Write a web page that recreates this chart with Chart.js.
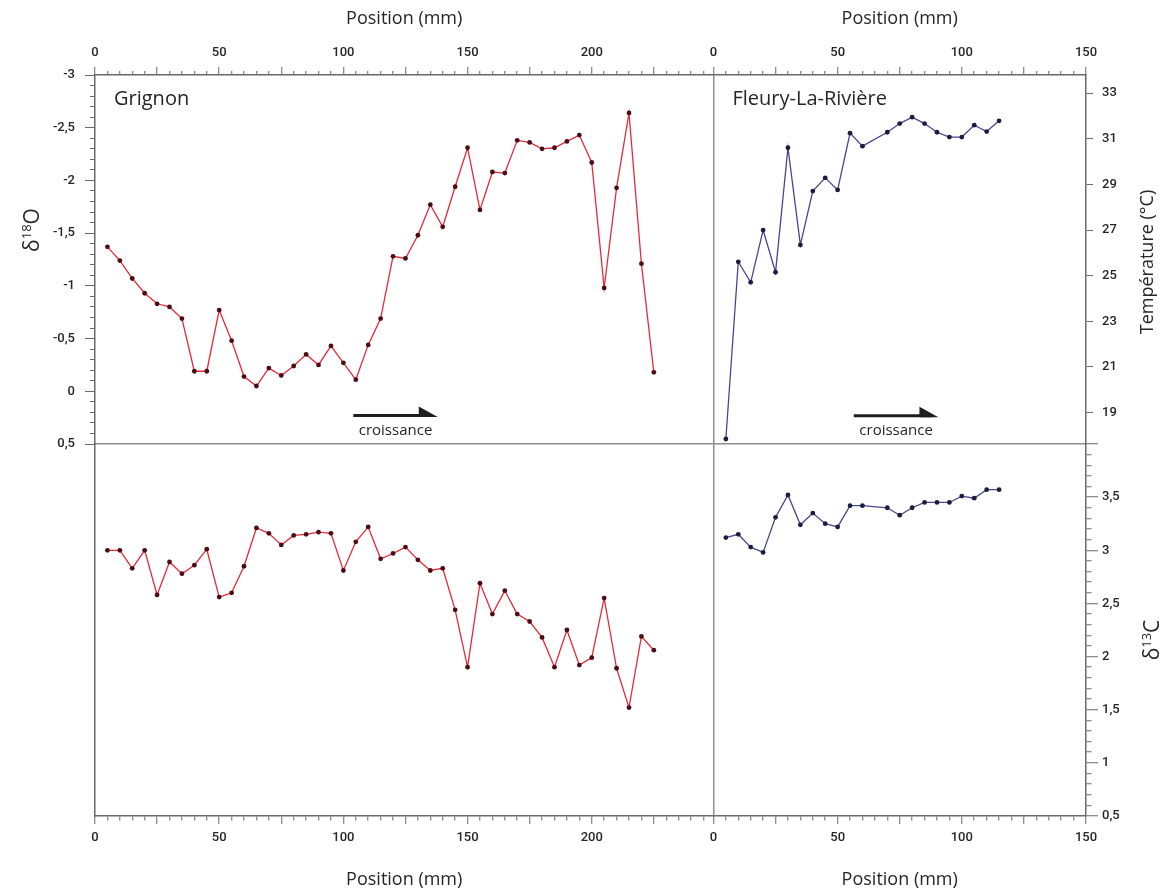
<!DOCTYPE html>
<html lang="fr">
<head>
  <meta charset="utf-8" />
  <title>Grignon / Fleury-La-Rivière — δ18O, δ13C</title>
  <script src="https://cdn.jsdelivr.net/npm/chart.js@4.4.1/dist/chart.umd.min.js"></script>
  <style>
    html, body { margin: 0; padding: 0; background: #fff; }
    #wrap { width: 1171px; height: 893px; }
  </style>
</head>
<body>
<div id="wrap"><canvas id="chart" width="1171" height="893"></canvas></div>
<script>
// --- data (position in mm) ---
const GRIGNON_X = [5, 10, 15, 20, 25, 30, 35, 40, 45, 50, 55, 60, 65, 70, 75, 80, 85, 90, 95, 100,
  105, 110, 115, 120, 125, 130, 135, 140, 145, 150, 155, 160, 165, 170, 175, 180, 185, 190, 195, 200,
  205, 210, 215, 220, 225]
const GRIGNON_D18O = [-1.37, -1.24, -1.07, -0.93, -0.83, -0.80, -0.69, -0.19, -0.19, -0.77,
  -0.48, -0.14, -0.05, -0.22, -0.15, -0.24, -0.35, -0.25, -0.43, -0.27,
  -0.11, -0.44, -0.69, -1.28, -1.26, -1.48, -1.77, -1.56, -1.94, -2.31,
  -1.72, -2.08, -2.07, -2.38, -2.36, -2.30, -2.31, -2.37, -2.43, -2.17,
  -0.98, -1.93, -2.64, -1.21, -0.18]
const GRIGNON_D13C = [3.00, 3.00, 2.83, 3.00, 2.58, 2.89, 2.78, 2.86, 3.01, 2.56,
  2.60, 2.85, 3.21, 3.16, 3.05, 3.14, 3.15, 3.17, 3.16, 2.81,
  3.08, 3.22, 2.92, 2.97, 3.03, 2.91, 2.81, 2.83, 2.44, 1.90,
  2.69, 2.40, 2.62, 2.40, 2.33, 2.18, 1.90, 2.25, 1.92, 1.99,
  2.55, 1.89, 1.52, 2.19, 2.06]

const FLEURY_X = [5, 10, 15, 20, 25, 30, 35, 40, 45, 50, 55, 60, 70, 75, 80, 85, 90, 95, 100, 105, 110, 115]
const FLEURY_TEMP = [17.84, 25.61, 24.71, 27.0, 25.15, 30.61, 26.35, 28.71, 29.29, 28.76, 31.25,
  30.68, 31.29, 31.67, 31.95, 31.67, 31.29, 31.08, 31.08, 31.6, 31.32, 31.79]
const FLEURY_D13C = [3.12, 3.15, 3.03, 2.98, 3.31, 3.52, 3.24, 3.35, 3.25, 3.22, 3.42,
  3.42, 3.40, 3.33, 3.40, 3.45, 3.45, 3.45, 3.51, 3.49, 3.57, 3.57]

// axis ranges
const POS_LEFT = [0, 249]
const POS_RIGHT = [0, 150]
const D18O_RANGE = [-3, 0.5]
const TEMP_RANGE = [17.62, 33.8]
const D13C_RANGE = [0.5, 4]

// "croissance" arrows: [from mm, to mm, y value]
const ARROW_GRIGNON = [104, 138, 0.23]
const ARROW_FLEURY = [56.5, 90.6, 18.86]

// --- style ---
const INK = '#262626'
const FRAME = '#6a6a6a'
const DIVIDER = '#8e8e8e'
const RED = '#e42a3b'
const RED_DOT = '#4d0b14'
const BLUE = '#46478f'
const BLUE_DOT = '#1c1c3e'
const SANS = '"Open Sans", "Noto Sans", sans-serif'
const TICK_FONT = { family: 'Roboto, sans-serif', size: 13, weight: '500' }
const TITLE_FONT = { family: SANS, size: 18 }

const near = (a, b) => Math.abs(a - b) < 1e-6
const multipleOf = (v, m) => near(v / m, Math.round(v / m))
const comma = v => String(Math.round(v * 10) / 10).replace('.', ',')

// Chart.js has a single tickLength per axis, so short (minor) ticks are cut
// down with a dash pattern. Top/left ticks are stroked from the outside in.
function tickDash(isMajor, outsideIn, full, short) {
  return ctx => {
    if (isMajor(ctx.tick.value)) return []
    return outsideIn ? [0, full - short, short, 1000] : [short, 1000]
  }
}

function xAxis(position, range, order, divider) {
  const top = position === 'top'
  return {
    type: 'linear', axis: 'x', position,
    min: range[0], max: range[1],
    stack: position, stackWeight: range[1] - range[0], weight: order,
    border: { color: FRAME, width: 1.5 },
    grid: {
      drawOnChartArea: divider,
      color: ctx => (divider && ctx.tick && ctx.tick.value === 0 ? DIVIDER : 'rgba(0,0,0,0)'),
      lineWidth: 1.5,
      tickLength: 8,
      tickColor: FRAME,
      tickWidth: 1,
      tickBorderDash: tickDash(v => multipleOf(v, 25), top, 8, 4),
    },
    ticks: {
      stepSize: 5, autoSkip: false, maxRotation: 0, includeBounds: false,
      padding: 6, color: INK, font: TICK_FONT,
      callback: v => (multipleOf(v, 50) ? String(v) : ''),
    },
    title: {
      display: true, text: 'Position (mm)', color: INK, font: TITLE_FONT,
      padding: top ? { top: 8, bottom: 0 } : { top: 0, bottom: 2 },
    },
    afterFit: s => { s.height = top ? 75 : 77 },
  }
}

const scales = {
  xTopL: xAxis('top', POS_LEFT, 2, false),
  xTopR: xAxis('top', POS_RIGHT, 1, true),
  xBotL: xAxis('bottom', POS_LEFT, 1, false),
  xBotR: xAxis('bottom', POS_RIGHT, 2, false),

  yTop: {
    type: 'linear', axis: 'y', position: 'left', reverse: true,
    min: D18O_RANGE[0], max: D18O_RANGE[1],
    stack: 'left', stackWeight: 369, weight: 2,
    border: { color: FRAME, width: 1.5 },
    grid: {
      drawOnChartArea: false, tickLength: 10, tickColor: FRAME, tickWidth: 1,
      tickBorderDash: tickDash(v => multipleOf(v, 0.5), true, 10, 5),
    },
    ticks: {
      stepSize: 0.1, autoSkip: false, padding: 10, color: INK, font: TICK_FONT,
      callback: v => (multipleOf(v, 0.5) ? comma(v) : ''),
    },
    afterFit: s => { s.width = 95 },
  },
  yBotL: {
    type: 'linear', axis: 'y', position: 'left',
    min: D13C_RANGE[0], max: D13C_RANGE[1],
    stack: 'left', stackWeight: 372, weight: 1,
    border: { color: FRAME, width: 1.5 },
    grid: { display: false },
    ticks: { display: false },
    afterFit: s => { s.width = 95 },
  },
  yTopR: {
    type: 'linear', axis: 'y', position: 'right',
    min: TEMP_RANGE[0], max: TEMP_RANGE[1],
    stack: 'right', stackWeight: 369, weight: 1,
    border: { color: FRAME, width: 1.5 },
    grid: {
      drawOnChartArea: false, tickLength: 7, tickWidth: 1,
      tickColor: ctx => (ctx.tick.value % 2 === 1 ? FRAME : 'rgba(0,0,0,0)'),
    },
    ticks: {
      stepSize: 1, autoSkip: false, includeBounds: false, padding: 9, color: INK, font: TICK_FONT,
      callback: v => (v % 2 === 1 ? String(v) : ''),
    },
    afterFit: s => { s.width = 85 },
  },
  yBotR: {
    type: 'linear', axis: 'y', position: 'right',
    min: D13C_RANGE[0], max: D13C_RANGE[1],
    stack: 'right', stackWeight: 372, weight: 2,
    border: { color: FRAME, width: 1.5 },
    grid: {
      drawOnChartArea: true,
      color: ctx => (ctx.tick && near(ctx.tick.value, D13C_RANGE[1]) ? DIVIDER : 'rgba(0,0,0,0)'),
      lineWidth: 1.5,
      tickLength: 12, tickColor: FRAME, tickWidth: 1,
      tickBorderDash: tickDash(v => multipleOf(v, 0.5), false, 12, 5),
    },
    ticks: {
      stepSize: 0.1, autoSkip: false, padding: 4, color: INK, font: TICK_FONT,
      callback: v => (multipleOf(v, 0.5) && !near(v, D13C_RANGE[1]) ? comma(v) : ''),
    },
    afterFit: s => { s.width = 85 },
  },
}

function series(label, xs, ys, xAxisID, yAxisID, line, dot) {
  return {
    label, xAxisID, yAxisID,
    data: xs.map((x, i) => ({ x, y: ys[i] })),
    borderColor: line, borderWidth: 1.3, tension: 0,
    pointRadius: 2.4, pointHoverRadius: 2.4,
    pointBackgroundColor: dot, pointBorderWidth: 0,
  }
}

// rotated axis title, read bottom to top; parts = [text, size, rise]
function vtitle(ctx, cx, cy, parts) {
  ctx.save()
  ctx.translate(cx, cy)
  ctx.rotate(-Math.PI / 2)
  ctx.textAlign = 'left'
  ctx.textBaseline = 'alphabetic'
  let w = 0
  for (const [t, px] of parts) { ctx.font = `${px}px ${SANS}`; w += ctx.measureText(t).width }
  let x = -w / 2
  for (const [t, px, rise] of parts) {
    ctx.font = `${px}px ${SANS}`
    ctx.fillText(t, x, 7 - rise)
    x += ctx.measureText(t).width
  }
  ctx.restore()
}

function arrow(ctx, xs, ys, [from, to, yv]) {
  const x0 = xs.getPixelForValue(from)
  const x1 = xs.getPixelForValue(to)
  const y = ys.getPixelForValue(yv)
  ctx.strokeStyle = '#1e1e1e'
  ctx.fillStyle = '#1e1e1e'
  ctx.lineWidth = 3
  ctx.beginPath()
  ctx.moveTo(x0, y)
  ctx.lineTo(x1 - 6, y)
  ctx.stroke()
  ctx.beginPath()
  ctx.moveTo(x1 - 19, y + 1.5)
  ctx.lineTo(x1 - 19, y - 9)
  ctx.lineTo(x1, y + 1.5)
  ctx.closePath()
  ctx.fill()
  ctx.fillStyle = INK
  ctx.font = `15px ${SANS}`
  ctx.textAlign = 'center'
  ctx.textBaseline = 'middle'
  ctx.fillText('croissance', (x0 + x1) / 2, y + 15)
}

const annotations = {
  id: 'annotations',
  afterDraw(chart) {
    const { ctx, scales: s, chartArea: a } = chart
    ctx.save()
    ctx.fillStyle = INK
    ctx.font = `20px ${SANS}`
    ctx.textAlign = 'left'
    ctx.textBaseline = 'middle'
    ctx.fillText('Grignon', s.xTopL.left + 19, a.top + 24)
    ctx.fillText('Fleury-La-Rivière', s.xTopR.left + 19, a.top + 24)

    arrow(ctx, s.xTopL, s.yTop, ARROW_GRIGNON)
    arrow(ctx, s.xTopR, s.yTopR, ARROW_FLEURY)

    ctx.fillStyle = INK
    vtitle(ctx, 32, s.yTop.top + 155, [['δ', 21, 0], ['18', 13, 8], ['O', 21, 0]])
    vtitle(ctx, 1146, s.yTopR.top + 187, [['Température (°C)', 18, 0]])
    vtitle(ctx, 1152, s.yBotR.top + 196, [['δ', 21, 0], ['13', 13, 8], ['C', 21, 0]])
    ctx.restore()
  },
}

new Chart(document.getElementById('chart'), {
  type: 'line',
  data: {
    datasets: [
      series('Grignon δ18O', GRIGNON_X, GRIGNON_D18O, 'xTopL', 'yTop', RED, RED_DOT),
      series('Grignon δ13C', GRIGNON_X, GRIGNON_D13C, 'xBotL', 'yBotR', RED, RED_DOT),
      series('Fleury température', FLEURY_X, FLEURY_TEMP, 'xTopR', 'yTopR', BLUE, BLUE_DOT),
      series('Fleury δ13C', FLEURY_X, FLEURY_D13C, 'xBotR', 'yBotR', BLUE, BLUE_DOT),
    ],
  },
  options: {
    responsive: false,
    animation: false,
    events: [],
    layout: { padding: 0 },
    plugins: { legend: { display: false }, tooltip: { enabled: false } },
    scales,
  },
  plugins: [annotations],
})
</script>
</body>
</html>
